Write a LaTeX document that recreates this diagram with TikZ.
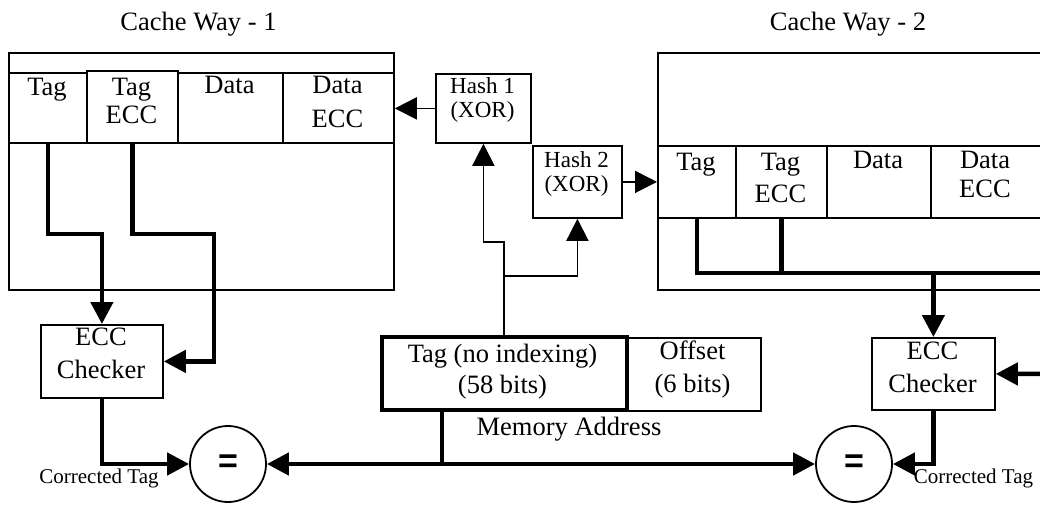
\documentclass[tikz,border=0pt]{standalone}
\usepackage{fontspec}
\setmainfont{Liberation Serif}
\newfontfamily\eqfont{Liberation Sans}
\usetikzlibrary{arrows.meta,calc}
\begin{document}
\begin{tikzpicture}[x=1pt,y=-1pt,
  every node/.style={inner sep=0pt, align=center},
  txt/.style={font=\fontsize{26.5}{33}\selectfont, anchor=base},
  hashtxt/.style={font=\fontsize{23}{24}\selectfont, anchor=base},
  smalltxt/.style={font=\fontsize{21}{22}\selectfont, anchor=base},
  thinl/.style={line width=1.8pt},
  thickl/.style={line width=4.5pt},
  box/.style={draw, line width=1.8pt, anchor=north west},
  arr/.style={-{Triangle[length=22pt,width=22pt]}},
  eqnode/.style={circle, draw, line width=1.8pt, minimum size=76pt, font=\eqfont\fontsize{34}{34}\selectfont\bfseries}
]
\useasboundingbox (0,0) rectangle (1040,506);
\clip (0,0) rectangle (1040,506);

% titles
\node[txt] (title1) at (198.5,30) {Cache Way - 1};
\node[txt] (title2) at (848,30) {Cache Way - 2};

% cache way 1
\node[box, minimum width=385pt, minimum height=237pt] (way1) at (8,52) {};
\node[box, minimum width=78pt, minimum height=70pt] (tag1) at (8,72) {};
\node[box, minimum width=91pt, minimum height=72pt] (tecc1) at (86,70) {};
\node[box, minimum width=105pt, minimum height=70pt] (data1) at (177,72) {};
\node[box, minimum width=111pt, minimum height=70pt] (decc1) at (282,72) {};
\node[txt] at (47,95) {Tag};
\node[txt, font=\fontsize{26.5}{28}\selectfont] at (131.5,123) {Tag\\ECC};
\node[txt] at (229.5,93) {Data};
\node[txt, font=\fontsize{26.5}{34}\selectfont] at (337.5,127) {Data\\ECC};

% cache way 2
\node[box, minimum width=400pt, minimum height=237pt] (way2) at (657,52) {};
\node[box, minimum width=78pt, minimum height=72pt] (tag2) at (657,145) {};
\node[box, minimum width=91pt, minimum height=72pt] (tecc2) at (735,145) {};
\node[box, minimum width=104pt, minimum height=72pt] (data2) at (826,145) {};
\node[box, minimum width=125pt, minimum height=72pt] (decc2) at (930,145) {};
\node[txt] at (696,170) {Tag};
\node[txt, font=\fontsize{26.5}{32}\selectfont] at (780.5,202) {Tag\\ECC};
\node[txt] at (878,168) {Data};
\node[txt, font=\fontsize{26.5}{29}\selectfont] at (985,197) {Data\\ECC};

% hash boxes
\node[box, minimum width=95pt, minimum height=69pt] (hash1) at (435,73) {};
\node[hashtxt] at (482.5,117) {Hash 1\\(XOR)};
\node[box, minimum width=89pt, minimum height=72pt] (hash2) at (532,145) {};
\node[hashtxt] at (576.5,191) {Hash 2\\(XOR)};

% ECC checkers
\node[box, minimum width=122pt, minimum height=73pt] (ecc1) at (40,324) {};
\node[txt] at (101,378) {ECC\\Checker};
\node[box, minimum width=123pt, minimum height=72pt] (ecc2) at (871,337) {};
\node[txt] at (932.5,392) {ECC\\Checker};

% memory address
\node[box, line width=3.5pt, minimum width=245pt, minimum height=73pt] (tagma) at (380,335) {};
\node[txt, font=\fontsize{26.5}{31}\selectfont] at (502.5,393) {Tag (no indexing)\\(58 bits)};
\node[box, minimum width=135pt, minimum height=73pt] (offset) at (625,337) {};
\node[txt] at (692.5,392) {Offset\\(6 bits)};
\node[txt] (memaddr) at (569,435) {Memory Address};

% comparators
\node[eqnode] (eq1) at (228,464) {=};
\node[eqnode] (eq2) at (854,464) {=};
\node[smalltxt] at (99,483) {Corrected Tag};
\node[smalltxt] at (973.5,483) {Corrected Tag};

% helper coordinates
\coordinate (bus) at (442,464);
\coordinate (w2r) at (1045,273);
\coordinate (e2in) at (1045,374);

% way 1 thick connectors
\draw[thickl, arr] (tag1.south) -- ++(0,90) -| (ecc1.north);
\draw[thickl, arr] (tecc1.south) -- ++(0,90) -| ($(ecc1.east)+(50,0)$) -- (ecc1.east);
\draw[thickl, arr] (ecc1.south) |- (eq1.west);

% way 2 thick connectors
\draw[thickl] (tag2.south) |- (w2r);
\draw[thickl] (tecc2.south) -- (tecc2.south |- w2r);
\draw[thickl, arr] (ecc2.north |- w2r) -- (ecc2.north);
\draw[thickl, arr] (e2in) -- (ecc2.east);
\draw[thickl, arr] (ecc2.south) |- (eq2.east);

% bus
\draw[thickl] (tagma.south -| bus) -- (bus);
\draw[thickl, arr] (bus) -- (eq1.east);
\draw[thickl, arr] (bus) -- (eq2.west);

% hash connectors
\draw[thinl, arr] (tagma.north) -- ++(0,-93) -| (hash1.south);
\draw[thinl, arr] (tagma.north) ++(0,-59) -| (hash2.south);
\draw[thinl, arr] (hash1.west) -- (hash1.west -| way1.east);
\draw[thinl, arr] (hash2.east) -- (hash2.east -| way2.west);
\end{tikzpicture}
\end{document}
